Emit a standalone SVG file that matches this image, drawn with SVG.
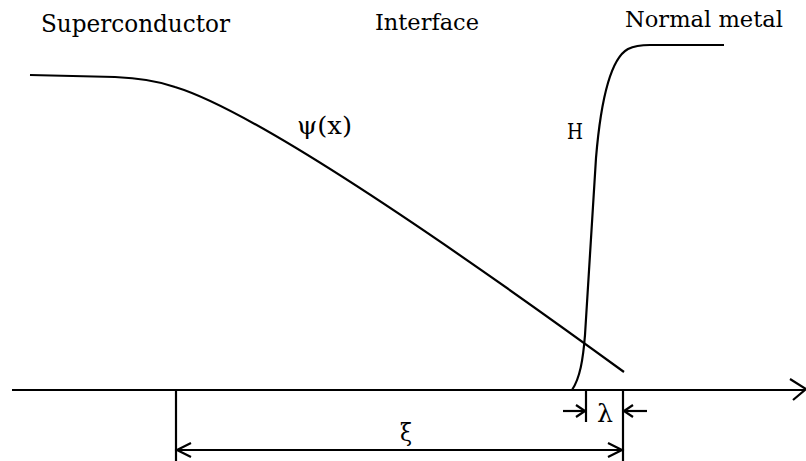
<svg xmlns="http://www.w3.org/2000/svg" width="806" height="461" viewBox="0 0 806 461">
<style>
.t{font-family:"DejaVu Serif","Liberation Serif",serif;fill:#000}
.l{fill:none;stroke:#000;stroke-width:2.2;stroke-linecap:butt}
.c{fill:none;stroke:#000;stroke-width:2.2}
</style>
<rect width="806" height="461" fill="#fff"/>
<g id="labels">
<text class="t" x="41" y="32" font-size="24" textLength="189" lengthAdjust="spacingAndGlyphs">Superconductor</text>
<text class="t" x="375" y="30" font-size="23" textLength="104" lengthAdjust="spacingAndGlyphs">Interface</text>
<text class="t" x="625" y="27" font-size="23" textLength="158" lengthAdjust="spacingAndGlyphs">Normal metal</text>
</g>
<g id="psi">
<path class="c" d="M30,75 L115,77 C140,78 158,81 175,87 Q274,117 624,372"/>
<text class="t" x="297" y="134" font-size="24" textLength="55" lengthAdjust="spacingAndGlyphs">ψ(x)</text>
</g>
<g id="H">
<path class="c" d="M572,390 C580,378 583,360 585,335 L596,158 C600,110 608,60 628,49 C634,46 640,45 650,45 L724,45"/>
<text class="t" x="567" y="139" font-size="22" textLength="16" lengthAdjust="spacingAndGlyphs">H</text>
</g>
<g id="connectors">
<line class="l" x1="12" y1="390" x2="805" y2="390"/>
<polyline class="l" points="790,379 806,389 793,400"/>
<line class="l" x1="176" y1="390" x2="176" y2="461"/>
<line class="l" x1="623" y1="390" x2="623" y2="461"/>
<line class="l" x1="176" y1="450" x2="623" y2="450"/>
<polyline class="l" points="191,443 177,450 191,457"/>
<polyline class="l" points="608,443 622,450 608,457"/>
<line class="l" x1="586" y1="390" x2="586" y2="422"/>
<line class="l" x1="563" y1="411" x2="585" y2="411"/>
<polyline class="l" points="576,405 585,411 576,417"/>
<line class="l" x1="624" y1="411" x2="647" y2="411"/>
<polyline class="l" points="633,405 624,411 633,417"/>
</g>
<g id="dims">
<text class="t" x="400" y="441" font-size="24" textLength="12" lengthAdjust="spacingAndGlyphs">ξ</text>
<text class="t" x="597" y="422" font-size="24" textLength="16" lengthAdjust="spacingAndGlyphs">λ</text>
</g>
</svg>
